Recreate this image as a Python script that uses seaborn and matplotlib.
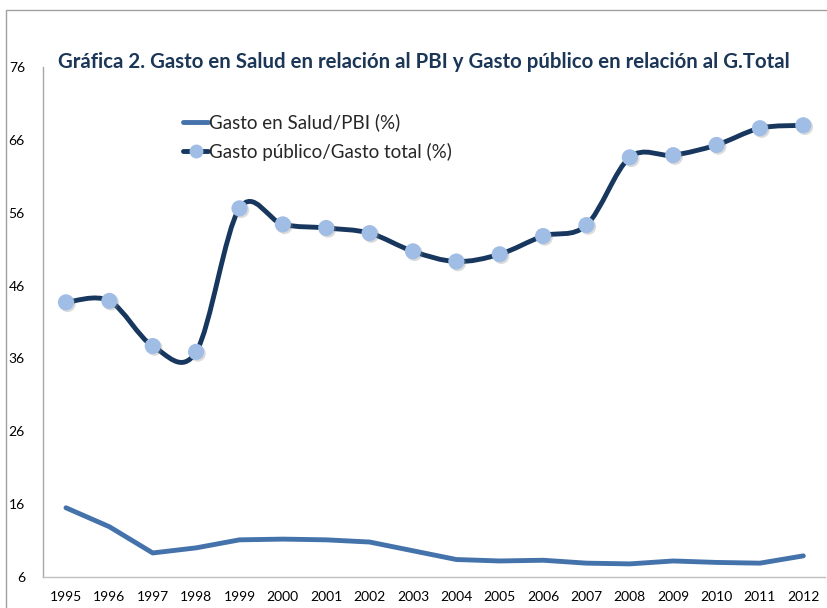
import numpy as np
import pandas as pd
import matplotlib
matplotlib.use("Agg")
import matplotlib.pyplot as plt
import seaborn as sns
import matplotlib.patheffects as pe
from matplotlib.path import Path
from matplotlib.patches import PathPatch, Rectangle
from matplotlib.lines import Line2D

years = list(range(1995, 2013))
gasto_salud_pbi = [15.5, 12.9, 9.3, 10.0, 11.1, 11.2, 11.1, 10.8, 9.6, 8.4,
                   8.2, 8.3, 7.9, 7.8, 8.2, 8.0, 7.9, 8.9]
gasto_publico_total = [43.7, 43.9, 37.7, 36.9, 56.6, 54.4, 53.9, 53.2, 50.7, 49.3,
                       50.3, 52.8, 54.3, 63.6, 63.9, 65.3, 67.6, 68.0]
y_ticks = [6, 16, 26, 36, 46, 56, 66, 76]

titulo = "Gráfica 2. Gasto en Salud en relación al PBI y Gasto público en relación al G.Total"
lbl_salud = "Gasto en Salud/PBI (%)"
lbl_publico = "Gasto público/Gasto total (%)"

df = pd.DataFrame({"year": years, "salud": gasto_salud_pbi, "publico": gasto_publico_total})

sns.set_theme(style="white")
plt.rcParams["font.family"] = ["Lato", "DejaVu Sans"]

c_salud = "#4472AA"
c_publico = "#17375E"
c_marker = "#A0BDE6"

fig = plt.figure(figsize=(8.27, 6.08), dpi=100)
ax = fig.add_axes([43 / 827, 1 - 577 / 608, 782 / 827, 510 / 608])

sns.lineplot(data=df, x="year", y="salud", color=c_salud, linewidth=3.5, ax=ax)

# smooth curve like Excel's "smoothed line"
x = df["year"].to_numpy(float)
y = df["publico"].to_numpy(float)
pts = np.column_stack([x, y])
ext = np.vstack([pts[0], pts, pts[-1]])
verts = [tuple(pts[0])]
codes = [Path.MOVETO]
for i in range(len(pts) - 1):
    p0, p1, p2, p3 = ext[i], ext[i + 1], ext[i + 2], ext[i + 3]
    c1 = p1 + (p2 - p0) / 6
    c2 = p2 - (p3 - p1) / 6
    verts += [tuple(c1), tuple(c2), tuple(p2)]
    codes += [Path.CURVE4] * 3
ax.add_patch(PathPatch(Path(verts, codes), fill=False, edgecolor=c_publico,
                       linewidth=3.5, capstyle="round", zorder=3))

sns.scatterplot(data=df, x="year", y="publico", color=c_marker, s=135,
                edgecolor="none", ax=ax, zorder=4,
                path_effects=[pe.SimplePatchShadow(offset=(1.2, -1.2), shadow_rgbFace="#8a8a8a",
                                                   alpha=0.3), pe.Normal()])

ax.set_xlim(1994.47, 2012.5)
ax.set_ylim(6, 76)
ax.set_xticks(years)
ax.set_xticklabels([str(v) for v in years])
ax.set_yticks(y_ticks)
ax.set_xlabel("")
ax.set_ylabel("")
ax.tick_params(axis="both", length=0, labelsize=10, colors="#000000")
ax.tick_params(axis="y", pad=13)
ax.tick_params(axis="x", pad=10)
for s in ["top", "right"]:
    ax.spines[s].set_visible(False)
ax.spines["left"].set_color("#a6a6a6")
ax.spines["bottom"].set_color("#bfbfbf")
ax.spines["left"].set_linewidth(1)
ax.spines["bottom"].set_linewidth(1)

handles = [
    Line2D([], [], color=c_salud, linewidth=3.5),
    Line2D([], [], color=c_publico, linewidth=3.5, marker="o", markersize=10,
           markerfacecolor=c_marker, markeredgecolor="none"),
]
ax.legend(handles, [lbl_salud, lbl_publico], loc="upper left",
          bbox_to_anchor=(0.158, 0.942), frameon=False, fontsize=13.5,
          handlelength=1.3, handletextpad=0.05, labelspacing=0.62)

fig.text(58 / 827, 1 - 62 / 608, titulo, fontsize=14.7, fontweight="bold",
         color="#1B3656", va="center", ha="left")

fig.patches.append(Rectangle((6 / 827, -0.05), 1.1, 1 - 10 / 608 + 0.05,
                             transform=fig.transFigure, fill=False,
                             edgecolor="#a0a0a0", linewidth=1))

fig.savefig("out.png", dpi=100)
